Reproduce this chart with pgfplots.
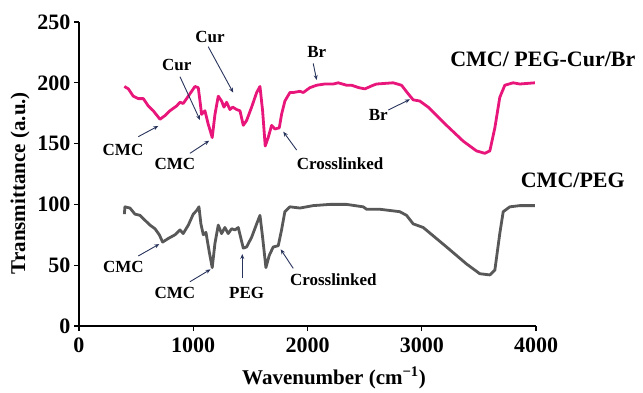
\documentclass[border=0pt]{standalone}
\usepackage{fontspec}
\setmainfont{Liberation Serif}
\usepackage{pgfplots}
\pgfplotsset{compat=1.18}
\usetikzlibrary{arrows.meta}
\definecolor{pinkc}{RGB}{232,22,122}
\definecolor{grayc}{RGB}{88,88,88}
\definecolor{arrc}{RGB}{40,52,92}
\newcommand{\ann}{\fontsize{17bp}{20bp}\selectfont\bfseries}
\begin{document}
\begin{tikzpicture}
\begin{axis}[
  scale only axis, width=457bp, height=304bp,
  xmin=0, xmax=4000, ymin=0, ymax=250,
  axis lines=left, axis line style={-, line width=1.4bp, black},
  xtick={0,1000,2000,3000,4000}, ytick={0,50,100,150,200,250},
  tick align=outside, major tick length=5bp,
  tick style={line width=1.2bp, black},
  scaled ticks=false,
  /pgf/number format/1000 sep={},
  /pgf/number format/assume math mode=true,
  tick label style={font=\fontsize{22bp}{24bp}\selectfont\bfseries},
  xticklabel style={yshift=-3bp},
  xlabel={Wavenumber (cm\textsuperscript{−1})},
  ylabel={Transmittance (a.u.)},
  label style={font=\fontsize{21bp}{24bp}\selectfont\bfseries},
  xlabel style={at={(axis description cs:0.558,-0.171)}, anchor=center},
  ylabel style={at={(axis description cs:-0.129,0.47)}, anchor=center},
  clip=false,
]
\addplot[pinkc, line width=2.8bp, line join=round] coordinates {
(397,197) (432,195) (475,189) (519,187) (563,187) (606,181) (650,177) (709,170)
(752,173) (796,177) (855,181) (884,184) (912,183) (942,187) (986,193) (1015,197)
(1044,196) (1059,185) (1073,174) (1102,177) (1131,166) (1166,155) (1190,174)
(1219,189) (1248,185) (1269,180) (1292,184) (1321,178) (1345,180) (1380,178)
(1409,177) (1438,165) (1467,169) (1511,180) (1555,192) (1584,197) (1607,177)
(1630,148) (1656,155) (1686,165) (1715,162) (1753,163) (1773,174) (1802,185)
(1846,192) (1875,192) (1934,193) (1963,192) (2021,196) (2080,198) (2150,199)
(2225,199) (2269,200) (2342,198) (2386,198) (2450,196) (2502,195) (2575,198)
(2605,199) (2750,200) (2823,198) (2881,191) (2925,186) (2983,185) (3056,180)
(3217,165) (3363,152) (3479,144) (3552,142) (3596,144) (3640,163) (3683,188)
(3727,198) (3800,200) (3858,199) (3990,200)
};
\addplot[grayc, line width=2.8bp, line join=round] coordinates {
(397,92) (402,98) (446,97) (490,92) (534,91) (577,87) (621,83) (665,80) (703,75)
(732,69) (782,72) (840,75) (884,79) (912,76) (957,83) (1000,92) (1030,95) (1050,98)
(1067,84) (1088,75) (1111,77) (1140,61) (1166,48) (1190,68) (1219,83) (1248,76)
(1277,81) (1306,76) (1336,80) (1365,79) (1394,81) (1438,64) (1467,65) (1511,73)
(1555,84) (1584,91) (1607,73) (1636,48) (1665,58) (1700,65) (1744,66) (1773,79)
(1802,94) (1846,98) (1934,97) (2050,99) (2196,100) (2342,100) (2488,98) (2517,96)
(2633,96) (2808,94) (2867,91) (2925,84) (3013,81) (3217,65) (3392,51) (3508,43)
(3596,42) (3640,46) (3683,76) (3713,94) (3771,98) (3858,99) (3990,99)
};
\begin{scope}[every node/.style={font=\ann, inner sep=0pt}]
\node at (axis cs:385,144.7) {CMC};
\node at (axis cs:855,214.6) {Cur};
\node at (axis cs:840,133.2) {CMC};
\node at (axis cs:1147,237.9) {Cur};
\node at (axis cs:2081,225.6) {Br};
\node at (axis cs:2285,133.8) {Crosslinked};
\node at (axis cs:2620,173.5) {Br};
\node at (axis cs:388,48.3) {CMC};
\node at (axis cs:840,27.4) {CMC};
\node at (axis cs:1468,27.4) {PEG};
\node at (axis cs:2226,38.4) {Crosslinked};
\node[font=\fontsize{22bp}{24bp}\selectfont\bfseries] at (axis cs:4060,219) {CMC/ PEG-Cur/Br};
\node[font=\fontsize{22bp}{24bp}\selectfont\bfseries] at (axis cs:4322,120) {CMC/PEG};
\end{scope}
\begin{scope}[arrc, line width=0.9bp, -{Stealth[length=5bp,width=4bp]}]
\draw (axis cs:519,155.7) -- (axis cs:694,164.5);
\draw (axis cs:884,205) -- (axis cs:1059,169.4);
\draw (axis cs:971,142) -- (axis cs:1140,152.4);
\draw (axis cs:1131,229.7) -- (axis cs:1350,191.9);
\draw (axis cs:2050,216) -- (axis cs:2080,202.3);
\draw (axis cs:1905,144.7) -- (axis cs:1788,159.8);
\draw (axis cs:2707,177.6) -- (axis cs:2897,186.4);
\draw (axis cs:519,57.6) -- (axis cs:703,67.4);
\draw (axis cs:971,36.4) -- (axis cs:1152,46.6);
\draw (axis cs:1429,39.2) -- (axis cs:1429,59.2);
\draw (axis cs:1875,47.4) -- (axis cs:1765,63.1);
\end{scope}
\end{axis}
\path (-79bp,-64bp) rectangle (564bp,326bp);
\end{tikzpicture}
\end{document}
